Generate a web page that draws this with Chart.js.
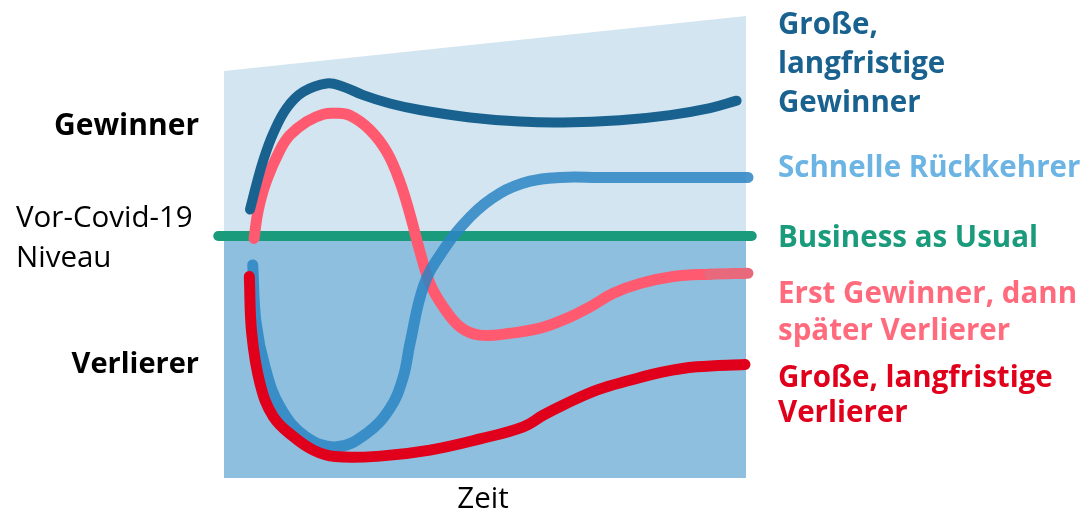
<!DOCTYPE html>
<html>
<head>
<meta charset="utf-8">
<script src="https://cdn.jsdelivr.net/npm/chart.js@4"></script>
<style>
  html, body { margin: 0; padding: 0; background: #fff; }
  #wrap { width: 1086px; height: 515px; position: relative; }
</style>
</head>
<body>
<div id="wrap"><canvas id="scenarioChart"></canvas></div>
<script>
// time runs 0..100, level 0 = pre-Covid-19 level
const timeGrid = [0, 100];
const upperBand = [35.5, 47.3];
const lowerBand = [-52, -52];

const baselineX = [-1.1, 101.1];
const baselineY = [0, 0];

const gewinnerX = [4.98, 6.26, 7.53, 9.44, 12.01, 15.19, 19.67, 22.85, 26.69, 31.8, 37.55, 47.13, 56.7, 65.0, 75.86, 85.44, 93.1, 98.2];
const gewinnerY = [5.7, 11.3, 16.3, 22.1, 27.5, 31.0, 32.8, 32.1, 30.3, 28.5, 27.1, 25.5, 24.6, 24.4, 24.9, 26.0, 27.5, 29.1];

const erstX = [5.75, 6.57, 8.18, 10.73, 12.64, 15.84, 19.02, 21.26, 24.14, 27.97, 31.17, 33.72, 35.82, 37.55, 39.46, 42.01, 45.21, 49.04, 54.79, 60.54, 65.65, 70.11, 74.58, 79.69, 86.07, 93.1, 100.38];
const erstY = [-0.5, 5.6, 12.0, 18.5, 21.7, 24.6, 26.2, 26.4, 25.9, 22.8, 18.1, 11.6, 3.9, -3.4, -10.2, -15.2, -19.5, -21.3, -20.9, -19.8, -17.7, -15.2, -12.3, -10.2, -8.7, -8.2, -8.0];

const schnellX = [5.5, 6.13, 7.85, 10.73, 15.52, 21.59, 27.34, 31.8, 34.29, 35.63, 38.18, 41.38, 47.13, 52.87, 58.62, 64.37, 72.03, 100.38];
const schnellY = [-6.2, -18.5, -28.1, -36.7, -43.0, -45.3, -42.4, -37.0, -30.5, -23.1, -10.9, -4.1, 4.1, 9.2, 11.8, 12.6, 12.6, 12.6];

const verliererX = [4.85, 5.31, 6.9, 9.44, 13.28, 17.11, 21.26, 29.89, 39.46, 49.04, 57.34, 61.17, 65.0, 71.4, 77.78, 84.16, 90.56, 99.81];
const verliererY = [-8.7, -20.9, -31.7, -38.8, -43.1, -46.0, -47.4, -47.3, -46.0, -43.6, -41.0, -38.5, -36.3, -33.1, -31.0, -29.2, -28.1, -27.6];

const seriesNames = [
  ['Große,', 'langfristige', 'Gewinner'],
  ['Schnelle Rückkehrer'],
  ['Business as Usual'],
  ['Erst Gewinner, dann', 'später Verlierer'],
  ['Große, langfristige', 'Verlierer']
];
const sideLabels = ['Gewinner', 'Vor-Covid-19', 'Niveau', 'Verlierer'];
const axisLabel = 'Zeit';

const pts = (xs, ys) => xs.map((x, i) => ({ x: x, y: ys[i] }));

const lineStyle = (color, width, order) => ({
  borderColor: color,
  borderWidth: width,
  borderCapStyle: 'round',
  borderJoinStyle: 'round',
  pointRadius: 0,
  fill: false,
  clip: false,
  tension: 0.4,
  order: order
});

const seriesColors = ['#19628f', '#6cb4e4', '#1a9b7b', '#ff6b7d', '#e1001c'];
const seriesBaselines = [[34, 73, 112], [177], [247], [303, 340], [387, 422]];

const labelsPlugin = {
  id: 'labels',
  afterDraw(chart) {
    const c = chart.ctx;
    c.save();
    c.textBaseline = 'alphabetic';
    c.font = 'bold 29.5px "Open Sans"';
    c.textAlign = 'left';
    seriesNames.forEach((lines, i) => {
      c.fillStyle = seriesColors[i];
      lines.forEach((t, j) => c.fillText(t, 778, seriesBaselines[i][j]));
    });
    c.fillStyle = '#000';
    c.textAlign = 'right';
    c.font = 'bold 30px "Open Sans"';
    c.fillText(sideLabels[0], 199, 135);
    c.font = 'bold 29px "Open Sans"';
    c.fillText(sideLabels[3], 199, 373);
    c.font = '29.5px "Open Sans"';
    c.textAlign = 'left';
    c.fillText(sideLabels[1], 16, 227);
    c.fillText(sideLabels[2], 16, 267);
    c.textAlign = 'center';
    c.fillText(axisLabel, 483, 508);
    c.restore();
  }
};

const erstLine = Object.assign({ data: pts(erstX, erstY) }, lineStyle('#ff5a70', 11, 4));
erstLine.segment = {
  borderColor: ctx => (ctx.p0DataIndex === erstX.length - 2 ? '#e8687c' : undefined)
};

new Chart(document.getElementById('scenarioChart'), {
  type: 'line',
  data: {
    datasets: [
      Object.assign({ data: pts(gewinnerX, gewinnerY) }, lineStyle('#19628f', 10, 1)),
      Object.assign({ data: pts(verliererX, verliererY) }, lineStyle('#e1001c', 11, 2)),
      Object.assign({ data: pts(schnellX, schnellY) }, lineStyle('rgba(44,133,196,0.85)', 11, 3)),
      erstLine,
      Object.assign({ data: pts(baselineX, baselineY) }, lineStyle('#1a9b7b', 10, 5)),
      {
        data: pts(timeGrid, upperBand),
        borderWidth: 0,
        pointRadius: 0,
        backgroundColor: '#d3e5f0',
        fill: 'origin',
        tension: 0,
        order: 10
      },
      {
        data: pts(timeGrid, lowerBand),
        borderWidth: 0,
        pointRadius: 0,
        backgroundColor: '#8fbfdf',
        fill: 'origin',
        tension: 0,
        order: 9
      }
    ]
  },
  options: {
    responsive: true,
    maintainAspectRatio: false,
    animation: false,
    layout: { padding: { left: 224, right: 340, top: 16, bottom: 37 } },
    scales: {
      x: { type: 'linear', min: 0, max: 100, display: false },
      y: { min: -52, max: 47.3, display: false }
    },
    plugins: {
      legend: { display: false },
      tooltip: { enabled: false }
    }
  },
  plugins: [labelsPlugin]
});
</script>
</body>
</html>
